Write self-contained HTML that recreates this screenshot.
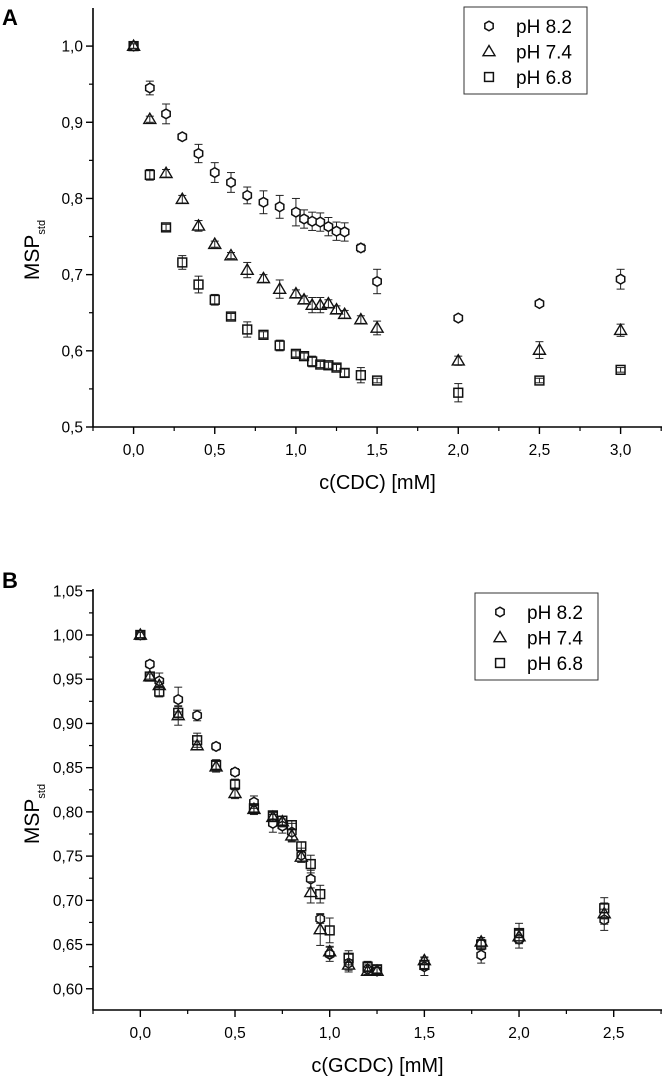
<!DOCTYPE html>
<html><head><meta charset="utf-8">
<style>
html,body{margin:0;padding:0;background:#fff;}
svg{display:block;font-family:"Liberation Sans",Arial,sans-serif;}
</style></head>
<body>
<svg id="fig" width="664" height="1076" viewBox="0 0 664 1076" xmlns="http://www.w3.org/2000/svg">
<text x="2" y="25" font-size="22" font-weight="bold">A</text>
<text x="2" y="588" font-size="22" font-weight="bold">B</text>
<g id="plotA"></g>
<g id="plotB"></g>
</svg>
<script>
// ---------- Panel A data (CDC) ----------
const xA = [0,0.1,0.2,0.3,0.4,0.5,0.6,0.7,0.8,0.9,1.0,1.05,1.1,1.15,1.2,1.25,1.3,1.4,1.5,2.0,2.5,3.0];
const a82 = [1.0,0.945,0.911,0.881,0.859,0.834,0.821,0.804,0.795,0.789,0.782,0.773,0.770,0.769,0.763,0.757,0.756,0.735,0.691,0.643,0.662,0.694];
const a82e = [0.003,0.009,0.013,0.004,0.012,0.013,0.013,0.011,0.015,0.015,0.018,0.012,0.012,0.012,0.012,0.012,0.012,0.005,0.016,0.004,0.003,0.013];
const a74 = [1.0,0.904,0.833,0.799,0.764,0.740,0.725,0.706,0.695,0.681,0.675,0.667,0.660,0.660,0.662,0.654,0.648,0.641,0.630,0.587,0.601,0.627];
const a74e = [0.003,0.004,0.005,0.005,0.007,0.004,0.004,0.010,0.005,0.012,0.005,0.005,0.010,0.010,0.005,0.005,0.005,0.005,0.009,0.006,0.011,0.008];
const a68 = [1.0,0.831,0.762,0.716,0.687,0.667,0.645,0.628,0.621,0.607,0.596,0.593,0.586,0.582,0.581,0.578,0.571,0.568,0.561,0.545,0.561,0.575];
const a68e = [0.003,0.007,0.004,0.009,0.011,0.007,0.004,0.010,0.004,0.007,0.004,0.004,0.007,0.004,0.004,0.004,0.005,0.010,0.003,0.012,0.003,0.003];
const xTicksA = ["0,0","0,5","1,0","1,5","2,0","2,5","3,0"];
const yTicksA = ["0,5","0,6","0,7","0,8","0,9","1,0"];

// ---------- Panel B data (GCDC) ----------
const xB = [0,0.05,0.1,0.2,0.3,0.4,0.5,0.6,0.7,0.75,0.8,0.85,0.9,0.95,1.0,1.1,1.2,1.25,1.5,1.8,2.0,2.45];
const b82 = [1.0,0.967,0.948,0.927,0.909,0.874,0.845,0.811,0.787,0.784,0.777,0.751,0.724,0.679,0.639,0.629,0.622,0.620,0.625,0.638,0.656,0.678];
const b82e = [0.003,0.004,0.009,0.014,0.006,0.004,0.004,0.007,0.010,0.008,0.010,0.008,0.010,0.005,0.008,0.010,0.006,0.004,0.010,0.009,0.010,0.012];
const b74 = [1.0,0.953,0.943,0.909,0.875,0.851,0.821,0.803,0.794,0.789,0.773,0.749,0.709,0.667,0.642,0.627,0.620,0.620,0.632,0.653,0.659,0.685];
const b74e = [0.003,0.003,0.004,0.011,0.005,0.006,0.006,0.006,0.005,0.006,0.007,0.006,0.012,0.018,0.006,0.006,0.004,0.004,0.004,0.005,0.008,0.012];
const b68 = [1.0,0.953,0.936,0.912,0.881,0.853,0.831,0.804,0.796,0.790,0.785,0.761,0.741,0.707,0.666,0.635,0.625,0.622,0.627,0.650,0.663,0.691];
const b68e = [0.003,0.003,0.006,0.007,0.008,0.006,0.006,0.004,0.004,0.005,0.005,0.005,0.010,0.010,0.014,0.008,0.006,0.004,0.004,0.006,0.011,0.012];
const xTicksB = ["0,0","0,5","1,0","1,5","2,0","2,5"];
const yTicksB = ["0,60","0,65","0,70","0,75","0,80","0,85","0,90","0,95","1,00","1,05"];
const legendLabels = ["pH 8.2","pH 7.4","pH 6.8"];

const NS = "http://www.w3.org/2000/svg";
function mk(parent, tag, attrs){
  const e = document.createElementNS(NS, tag);
  for (const k in attrs) e.setAttribute(k, attrs[k]);
  parent.appendChild(e);
  return e;
}
function marker(g, kind, cx, cy){
  let m;
  if (kind===0){
    const r=4.8; let pts=[];
    for(let i=0;i<6;i++){const a=Math.PI/6+i*Math.PI/3; pts.push((cx+r*Math.cos(a)).toFixed(2)+','+(cy+r*Math.sin(a)).toFixed(2));}
    m = mk(g,'polygon',{points:pts.join(' '),fill:'#fff',stroke:'#111','stroke-width':1.5});
  } else if (kind===1){
    const s=6;
    m = mk(g,'polygon',{points:`${cx},${cy-s} ${cx-s},${cy+s*0.7} ${cx+s},${cy+s*0.7}`,fill:'none',stroke:'#111','stroke-width':1.4});
  } else {
    m = mk(g,'rect',{x:cx-4.4,y:cy-4.4,width:8.8,height:8.8,fill:'none',stroke:'#111','stroke-width':1.5});
  }
  return m;
}

function plot(root, cfg){
  const L=cfg.left, R=cfg.right, T=cfg.top, B=cfg.bottom;
  const xs = v => L + (v-cfg.xmin)/(cfg.xmax-cfg.xmin)*(R-L);
  const ys = v => B - (v-cfg.ymin)/(cfg.ymax-cfg.ymin)*(B-T);
  const ax = mk(root,'g',{});
  
  
  mk(ax,'line',{x1:L,y1:T,x2:L,y2:B+0.5,stroke:'#000','stroke-width':1.6});
  mk(ax,'line',{x1:L-0.5,y1:B,x2:R,y2:B,stroke:'#000','stroke-width':1.6});
  cfg.yTicks.forEach((lab,i)=>{
    const v = cfg.yTick0 + i*cfg.yStep;
    const y = ys(v);
    mk(ax,'line',{x1:L-7,y1:y,x2:L,y2:y,stroke:'#000','stroke-width':1.4});
    const t = mk(ax,'text',{x:L-10,y:y+5.5,'font-size':15.5,'text-anchor':'end'});
    t.textContent = lab;
    
    
  });
  for (let v=cfg.yTick0+cfg.yStep/2; v<cfg.ymax; v+=cfg.yStep){
    const y=ys(v); mk(ax,'line',{x1:L-4,y1:y,x2:L,y2:y,stroke:'#000','stroke-width':1.2});
  }
  cfg.xTicks.forEach((lab,i)=>{
    const v = i*0.5; const x=xs(v);
    mk(ax,'line',{x1:x,y1:B,x2:x,y2:B+7,stroke:'#000','stroke-width':1.4});
    const t = mk(ax,'text',{x:x,y:B+28,'font-size':15.5,'text-anchor':'middle'});
    t.textContent = lab;
    
    
  });
  for (let v=-0.25; v<cfg.xmax; v+=0.5){
    const x=xs(v); mk(ax,'line',{x1:x,y1:B,x2:x,y2:B+4,stroke:'#000','stroke-width':1.2});
  }
  const xt = mk(root,'text',{x:(L+R)/2,y:B+62,'font-size':20,'text-anchor':'middle'});
  xt.textContent = cfg.xTitle;
  
  
  const yt = mk(root,'text',{transform:`translate(39,${cfg.yTitleY}) rotate(-90)`,'font-size':21,'text-anchor':'middle'});
  
  
  yt.appendChild(document.createTextNode('MSP'));
  const sub = mk(yt,'tspan',{'font-size':11,dy:6});
  sub.textContent='std';
  cfg.series.forEach((s,k)=>{
    const g = mk(root,'g',{});
    
    
    cfg.x.forEach((xv,i)=>{
      const cx=xs(xv), cy=ys(s.v[i]);
      const y1=ys(s.v[i]+s.e[i]), y2=ys(s.v[i]-s.e[i]);
      mk(g,'line',{x1:cx,y1:y1,x2:cx,y2:y2,stroke:'#222','stroke-width':1});
      mk(g,'line',{x1:cx-4,y1:y1,x2:cx+4,y2:y1,stroke:'#222','stroke-width':1});
      mk(g,'line',{x1:cx-4,y1:y2,x2:cx+4,y2:y2,stroke:'#222','stroke-width':1});
      const m = marker(g,k,cx,cy);
      
      
    });
  });
  const lg = mk(root,'g',{});
  
  
  const lx=cfg.legend[0], ly=cfg.legend[1];
  mk(lg,'rect',{x:lx,y:ly,width:123,height:87,fill:'#fff',stroke:'#333','stroke-width':1});
  legendLabels.forEach((lab,k)=>{
    const cy = ly+19+k*25.5;
    const ent = mk(lg,'g',{});
    
    
    marker(ent,k,lx+25,cy);
    const t = mk(ent,'text',{x:lx+52,y:cy+7,'font-size':19});
    t.textContent = lab;
  });
}

plot(document.getElementById('plotA'),{
  left:93,right:662,top:8,bottom:427,xmin:-0.25,xmax:3.255,ymin:0.5,ymax:1.05,
  yTicks:yTicksA,yTick0:0.5,yStep:0.1,xTicks:xTicksA,xTitle:'c(CDC) [mM]',yTitleY:250,
  x:xA,series:[{v:a82,e:a82e},{v:a74,e:a74e},{v:a68,e:a68e}],legend:[464,7]
});
plot(document.getElementById('plotB'),{
  left:93,right:662,top:589,bottom:1010,xmin:-0.25,xmax:2.755,ymin:0.576,ymax:1.052,
  yTicks:yTicksB,yTick0:0.60,yStep:0.05,xTicks:xTicksB,xTitle:'c(GCDC) [mM]',yTitleY:814,
  x:xB,series:[{v:b82,e:b82e},{v:b74,e:b74e},{v:b68,e:b68e}],legend:[475,593]
});
</script>
</body></html>
